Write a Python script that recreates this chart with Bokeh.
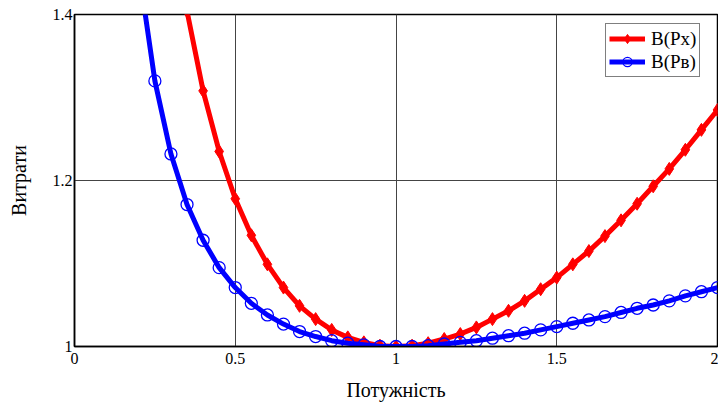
from bokeh.plotting import figure
from bokeh.models import FixedTicker, CustomJSTickFormatter, Legend, LegendItem, Range1d
from bokeh.embed import file_html
from bokeh.resources import INLINE

# Power (relative)
power = [0.20, 0.25, 0.30, 0.35, 0.40, 0.45, 0.50, 0.55, 0.60, 0.65,
         0.70, 0.75, 0.80, 0.85, 0.90, 0.95, 1.00, 1.05, 1.10, 1.15,
         1.20, 1.25, 1.30, 1.35, 1.40, 1.45, 1.50, 1.55, 1.60, 1.65,
         1.70, 1.75, 1.80, 1.85, 1.90, 1.95, 2.00]

# B(Px) - red series
cost_px = [2.003, 1.721, 1.535, 1.404, 1.308, 1.235, 1.178, 1.134, 1.099, 1.071,
           1.049, 1.033, 1.020, 1.011, 1.005, 1.001, 1.000, 1.001, 1.004, 1.009,
           1.015, 1.023, 1.033, 1.043, 1.055, 1.069, 1.083, 1.099, 1.115, 1.133,
           1.152, 1.172, 1.193, 1.214, 1.237, 1.261, 1.285]

# B(Pв) - blue series
cost_pv = [1.454, 1.320, 1.232, 1.171, 1.128, 1.095, 1.071, 1.052, 1.038, 1.027,
           1.018, 1.012, 1.007, 1.004, 1.002, 1.000, 1.000, 1.000, 1.001, 1.003,
           1.005, 1.007, 1.010, 1.013, 1.016, 1.020, 1.024, 1.028, 1.032, 1.036,
           1.041, 1.046, 1.050, 1.055, 1.061, 1.066, 1.071]

x_ticks = [0, 0.5, 1, 1.5, 2]
y_ticks = [1, 1.2, 1.4]
labels = ["В(Рх)", "В(Рв)"]

SERIF = "Liberation Serif"

p = figure(width=718, height=405, output_backend="svg", toolbar_location=None,
           x_range=Range1d(0, 2), y_range=Range1d(1, 1.4),
           min_border_left=74, min_border_right=1, min_border_top=14, min_border_bottom=59)
p.background_fill_color = "white"
p.border_fill_color = "white"
p.outline_line_color = "black"
p.outline_line_width = 1.5

fmt = CustomJSTickFormatter(code="return String(tick);")
for ax, ticks in ((p.xaxis[0], x_ticks), (p.yaxis[0], y_ticks)):
    ax.ticker = FixedTicker(ticks=ticks)
    ax.formatter = fmt
    ax.major_tick_line_color = None
    ax.minor_tick_line_color = None
    ax.major_tick_out = 0
    ax.major_tick_in = 0
    ax.minor_tick_out = 0
    ax.minor_tick_in = 0
    ax.axis_line_color = "black"
    ax.axis_line_width = 1.5
    ax.major_label_text_font = SERIF
    ax.major_label_text_font_size = "16px"
    ax.major_label_text_color = "black"
    ax.axis_label_text_font = SERIF
    ax.axis_label_text_font_size = "20px"
    ax.axis_label_text_font_style = "normal"
    ax.axis_label_text_color = "black"

p.xaxis.axis_label = "Потужність"
p.yaxis.axis_label = "Витрати"
p.xaxis.major_label_standoff = 6
p.xaxis.axis_label_standoff = 12
p.yaxis.major_label_standoff = 2
p.yaxis.axis_label_standoff = 20

p.xgrid.ticker = FixedTicker(ticks=x_ticks)
p.ygrid.ticker = FixedTicker(ticks=y_ticks)
p.grid.grid_line_color = "#444444"
p.grid.grid_line_width = 1

r1 = p.line(power, cost_px, line_color="#ff0000", line_width=5)
m1 = p.scatter(power, cost_px, marker="diamond", size=13, fill_color="#ff0000",
               line_color="#ff0000")
r2 = p.line(power, cost_pv, line_color="#0000ff", line_width=5)
m2 = p.scatter(power, cost_pv, marker="circle", size=12, fill_color=None,
               line_color="#0000ff", line_width=1.3)

legend = Legend(items=[LegendItem(label=labels[0], renderers=[r1, m1]),
                       LegendItem(label=labels[1], renderers=[r2, m2])],
                location=(531, 269))
legend.border_line_color = "black"
legend.border_line_width = 1
legend.label_text_font = SERIF
legend.label_text_font_size = "19px"
legend.label_text_color = "black"
legend.glyph_width = 36
legend.glyph_height = 23
legend.label_height = 23
legend.padding = 3
legend.spacing = 0
legend.label_standoff = 6
legend.margin = 0
p.add_layout(legend)

open("out.html", "w").write(file_html(p, INLINE))
